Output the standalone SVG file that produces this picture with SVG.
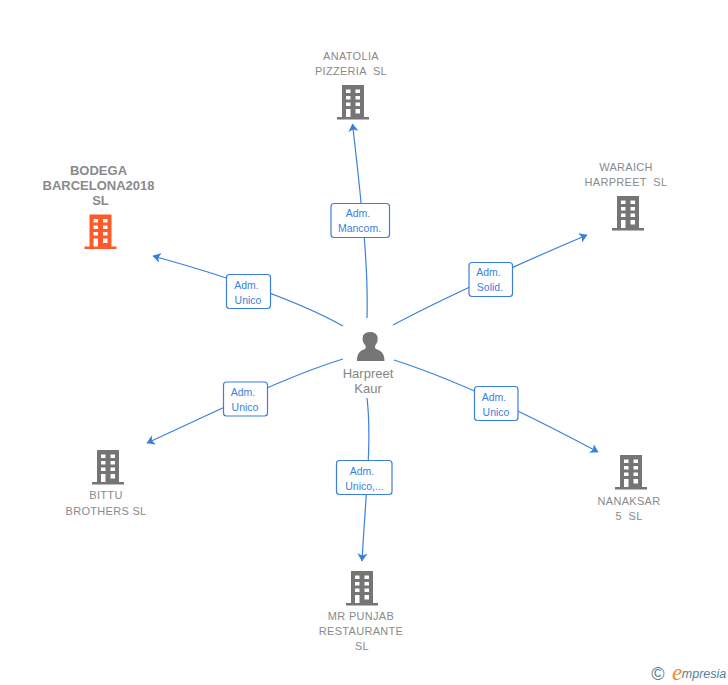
<svg xmlns="http://www.w3.org/2000/svg" width="728" height="685" viewBox="0 0 728 685">
<style>
text{font-family:"Liberation Sans",Arial,sans-serif;text-anchor:middle;white-space:pre}
.n{font-size:11px;letter-spacing:.3px;fill:#8a8a8a}
.b{font-size:13px;font-weight:bold;fill:#8a8a8a}
.p{font-size:13px;fill:#858585}
.l{font-size:10.500px;fill:#3b7fdd}
.c{fill:none;stroke:#3b7fdd;stroke-width:1.200}
.box{fill:#fff;stroke:#3b7fdd;stroke-width:1.200}
.g{fill:#757575}
.o{fill:#ff5a2b}
</style>
<defs>
<path id="bld" fill-rule="evenodd" d="M-11 0H11V32H16V34.500H-16V32H-11ZM-7 4.500V8H-2.500V4.500ZM2.500 4.500V8H7V4.500ZM-7 11V14.500H-2.500V11ZM2.500 11V14.500H7V11ZM-7 17.500V21H-2.500V17.500ZM2.500 17.500V21H7V17.500ZM-7 24V32H-2.500V24ZM2.500 24V28.500H7V24Z"/>
<marker id="a" markerWidth="10" markerHeight="11" refX="7.500" refY="5.500" orient="auto" markerUnits="userSpaceOnUse"><path d="M0 .5L8 5.500L0 10.500L2 5.500Z" fill="#3b7fdd"/></marker>
</defs>
<g id="connectors">
<path class="c" marker-end="url(#a)" d="M367 318C368 280 366 240 352.500 124"/>
<path class="c" marker-end="url(#a)" d="M343 326C300 302 240 280 153 256"/>
<path class="c" marker-end="url(#a)" d="M393 325C440 300 500 272 587 235"/>
<path class="c" marker-end="url(#a)" d="M343 359C290 375 230 405 147 443"/>
<path class="c" marker-end="url(#a)" d="M394 360C450 378 520 410 598 452"/>
<path class="c" marker-end="url(#a)" d="M367 398C372 440 366 490 362 561"/>
</g>
<g id="edge-labels">
<g><rect class="box" x="331" y="203.500" width="58.500" height="34" rx="3"/><text class="l" x="358" y="216.500">Adm.</text><text class="l" x="359.500" y="231.500">Mancom.</text></g>
<g><rect class="box" x="226.500" y="274.500" width="44" height="34" rx="3"/><text class="l" x="246.500" y="288.500">Adm.</text><text class="l" x="248" y="303.500">Unico</text></g>
<g><rect class="box" x="469" y="262.500" width="43.500" height="34" rx="3"/><text class="l" x="488.500" y="276">Adm.</text><text class="l" x="490" y="291">Solid.</text></g>
<g><rect class="box" x="223.500" y="382" width="44" height="34" rx="3"/><text class="l" x="243" y="395.500">Adm.</text><text class="l" x="245" y="410.500">Unico</text></g>
<g><rect class="box" x="474.500" y="386.500" width="43.500" height="34" rx="3"/><text class="l" x="494" y="400.500">Adm.</text><text class="l" x="496" y="415.500">Unico</text></g>
<g><rect class="box" x="336.500" y="460.500" width="55.500" height="34" rx="3"/><text class="l" x="362" y="474.500">Adm.</text><text class="l" x="364.500" y="489.500">Unico,...</text></g>
</g>
<g id="harpreet">
<path class="g" d="M357 361C357 353 360 351 365 349C366 348 366 346 365 345C362.500 342 362 339 363 336C364 333 367 332 370 332C374 332 377 334 377.500 337C378 340 377.500 343 375.500 345C374.500 347 375 348 376 349C381 351 384.500 353 384.500 361Z"/>
<text class="p" x="368" y="378">Harpreet</text><text class="p" x="368" y="393">Kaur</text>
</g>
<g id="anatolia"><text class="n" x="351" y="60">ANATOLIA</text><text class="n" x="351" y="75">PIZZERIA  SL</text><use href="#bld" class="g" x="353" y="85"/></g>
<g id="bodega"><text class="b" x="98.500" y="175">BODEGA</text><text class="b" x="98.500" y="190">BARCELONA2018</text><text class="b" x="100.500" y="205">SL</text><use href="#bld" class="o" x="100.500" y="214.500"/></g>
<g id="waraich"><text class="n" x="626" y="171">WARAICH</text><text class="n" x="626" y="186">HARPREET  SL</text><use href="#bld" class="g" x="628" y="196"/></g>
<g id="bittu"><use href="#bld" class="g" x="108" y="450"/><text class="n" x="106" y="499">BITTU</text><text class="n" x="106" y="515">BROTHERS SL</text></g>
<g id="nanaksar"><use href="#bld" class="g" x="631" y="455"/><text class="n" x="629" y="505">NANAKSAR</text><text class="n" x="629" y="520">5  SL</text></g>
<g id="mrpunjab"><use href="#bld" class="g" x="362" y="571"/><text class="n" x="361" y="620">MR PUNJAB</text><text class="n" x="361" y="635">RESTAURANTE</text><text class="n" x="362" y="650">SL</text></g>
<g id="logo">
<text x="658" y="679.500" style="font-size:18px;fill:#4f8296">©</text>
<text x="677" y="680" style="font-family:'Liberation Serif',serif;font-style:italic;font-size:23px;fill:#f08a24">e</text>
<text x="704" y="678" style="font-style:italic;font-size:12.500px;fill:#4f8296">mpresia</text>
</g>
</svg>
